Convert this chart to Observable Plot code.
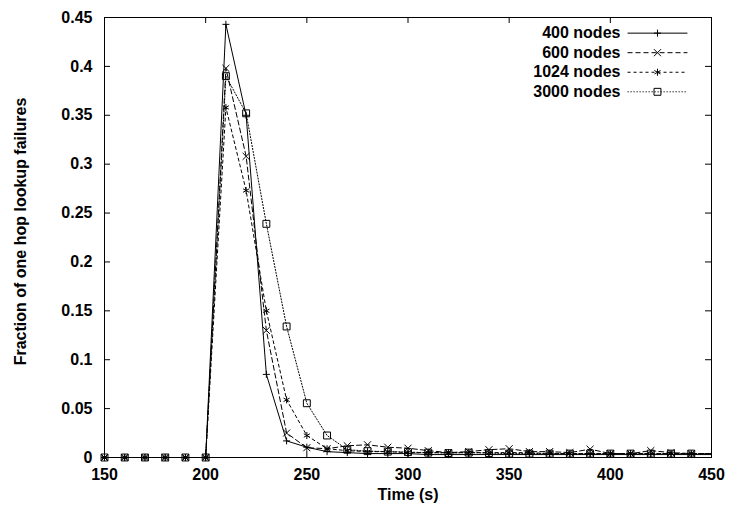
<!DOCTYPE html>
<html>
<head>
<meta charset="utf-8">
<script src="https://cdn.jsdelivr.net/npm/d3@7"></script>
<script src="https://cdn.jsdelivr.net/npm/@observablehq/plot@0.6"></script>
<style>
  html, body { margin: 0; padding: 0; background: #fff; }
</style>
</head>
<body>
<div id="chart"></div>
<script>
// Data
const times = [150,160,170,180,190,200,210,220,230,240,250,260,270,280,290,300,310,320,330,340,350,360,370,380,390,400,410,420,430,440,450];
const seriesNames = ["400 nodes", "600 nodes", "1024 nodes", "3000 nodes"];
const nodes400  = [0,0,0,0,0,0, .443,.350,.085,.017,.0105,.006,.005,.004,.004,.004,.003,.003,.003,.003,.003,.003,.003,.003,.003,.003,.003,.003,.003,.003,.003];
const nodes600  = [0,0,0,0,0,0, .398,.308,.130,.025,.010,.009,.012,.013,.0105,.0095,.007,.005,.006,.008,.009,.006,.006,.005,.0085,.004,.004,.007,.005,.004,.004];
const nodes1024 = [0,0,0,0,0,0, .358,.273,.150,.059,.0225,.009,.007,.006,.006,.005,.005,.005,.005,.005,.005,.005,.004,.004,.004,.004,.004,.004,.004,.004,.004];
const nodes3000 = [0,0,0,0,0,0, .390,.352,.239,.134,.0555,.0225,.008,.0065,.006,.0055,.005,.0045,.005,.0045,.004,.004,.004,.004,.004,.004,.004,.004,.004,.004,.004];
const xTicks = [150,200,250,300,350,400,450];
const yTicks = [0,0.05,0.1,0.15,0.2,0.25,0.3,0.35,0.4,0.45];

const seriesValues = [nodes400, nodes600, nodes1024, nodes3000];
const styles = [
  {dash: null,      symbol: "plus",     r: 2.4},
  {dash: "5,3",     symbol: "times",    r: 3.3},
  {dash: "3,3",     symbol: "asterisk", r: 3.3},
  {dash: "1.2,1.8", symbol: "square",   r: 3.9}
];

const marks = [];
const legendTextX = 405, legendX1 = 408.5, legendX2 = 438.1, legendTop = 0.434, legendStep = 0.02;

seriesNames.forEach((name, i) => {
  const rows = times.map((t, j) => ({t, v: seriesValues[i][j]}));
  const st = styles[i];
  marks.push(Plot.line(rows, {x: "t", y: "v", stroke: "#000", strokeWidth: 1, strokeDasharray: st.dash || undefined}));
  marks.push(Plot.dot(rows.filter(d => d.t < 450), {x: "t", y: "v", symbol: () => st.symbol, r: st.r, stroke: "#000", fill: "none", strokeWidth: 1}));
  // legend entry
  const ly = legendTop - i * legendStep;
  marks.push(Plot.text([name], {x: () => legendTextX, y: () => ly, text: d => d, textAnchor: "end", fill: "#000"}));
  marks.push(Plot.link([name], {x1: () => legendX1, x2: () => legendX2, y1: () => ly, y2: () => ly, stroke: "#000", strokeWidth: 1, strokeDasharray: st.dash || undefined}));
  marks.push(Plot.dot([name], {x: () => (legendX1 + legendX2) / 2, y: () => ly, symbol: () => st.symbol, r: st.r, stroke: "#000", fill: "none", strokeWidth: 1}));
});

const chart = Plot.plot({
  width: 730,
  height: 516,
  marginLeft: 104,
  marginRight: 19,
  marginTop: 17,
  marginBottom: 59,
  style: {fontFamily: "'Liberation Sans', Arial, sans-serif", fontSize: "16px", fontWeight: "bold", background: "#fff", color: "#000"},
  x: {domain: [150, 450]},
  y: {domain: [0, 0.45]},
  symbol: {type: "identity"},
  marks: [
    ...marks,
    // inward ticks on all four sides
    Plot.tickX(xTicks, {x: d => d, insetTop: 434, stroke: "#000"}),
    Plot.tickX(xTicks, {x: d => d, insetBottom: 434, stroke: "#000"}),
    Plot.tickY(yTicks, {y: d => d, insetRight: 601, stroke: "#000"}),
    Plot.tickY(yTicks, {y: d => d, insetLeft: 601, stroke: "#000"}),
    Plot.axisX({ticks: xTicks, tickSize: 0, tickPadding: 11, label: null, fontSize: 16}),
    Plot.axisY({ticks: yTicks, tickSize: 0, tickPadding: 12, label: null, fontSize: 16, tickFormat: d => String(+d.toFixed(2))}),
    Plot.text(["Time (s)"], {frameAnchor: "bottom", dy: 42, text: d => d, fontSize: 16}),
    Plot.text(["Fraction of one hop lookup failures"], {frameAnchor: "left", textAnchor: "middle", dx: -84, dy: -6, rotate: -90, text: d => d, fontSize: 16}),
    Plot.frame({stroke: "#000", strokeWidth: 1})
  ]
});
document.getElementById("chart").appendChild(chart);
</script>
</body>
</html>
